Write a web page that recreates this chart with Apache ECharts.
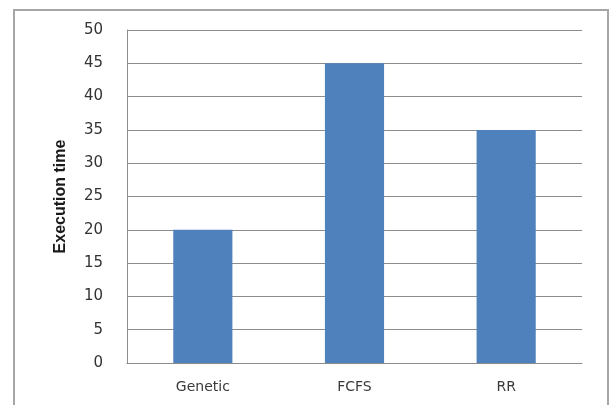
<!DOCTYPE html>
<html>
<head>
<meta charset="utf-8">
<script src="https://cdn.jsdelivr.net/npm/echarts@6/dist/echarts.min.js"></script>
<style>
  html, body { margin: 0; padding: 0; background: #fff; }
  #chart { width: 616px; height: 405px; }
</style>
</head>
<body>
<div id="chart"></div>
<script>
var categories = ["Genetic", "FCFS", "RR"];
var executionTime = [20, 45, 35];
var yMin = 0, yMax = 50, yStep = 5;

var chart = echarts.init(document.getElementById("chart"));
var option = {
  backgroundColor: "#fff",
  animation: false,
  graphic: [
    {
      type: "rect",
      shape: { x: 14, y: 10, width: 594, height: 420 },
      style: { fill: "none", stroke: "#a6a6a6", lineWidth: 2 },
      silent: true
    }
  ],
  grid: { left: 127, right: 34, top: 30, bottom: 42 },
  xAxis: {
    type: "category",
    data: categories,
    axisTick: { show: false },
    axisLine: { lineStyle: { color: "#8c8c8c", width: 1 } },
    axisLabel: {
      color: "#3a3a3a",
      fontFamily: "DejaVu Sans",
      fontSize: 14,
      margin: 17
    }
  },
  yAxis: {
    type: "value",
    min: yMin,
    max: yMax,
    interval: yStep,
    name: "Execution time",
    nameLocation: "middle",
    nameGap: 58,
    nameRotate: 90,
    nameTextStyle: {
      color: "#1a1a1a",
      fontFamily: "Liberation Sans Narrow, Liberation Sans",
      fontWeight: "bold",
      fontSize: 16
    },
    axisLine: { show: true, lineStyle: { color: "#8c8c8c", width: 1 } },
    axisTick: { show: false },
    splitLine: { lineStyle: { color: "#8c8c8c", width: 1 } },
    axisLabel: {
      color: "#333333",
      fontFamily: "DejaVu Sans",
      fontSize: 15,
      margin: 24
    }
  },
  series: [
    {
      name: "Execution time",
      type: "bar",
      data: executionTime,
      barWidth: "39%",
      itemStyle: { color: "#4f81bd" }
    }
  ]
};
chart.setOption(option);
</script>
</body>
</html>
